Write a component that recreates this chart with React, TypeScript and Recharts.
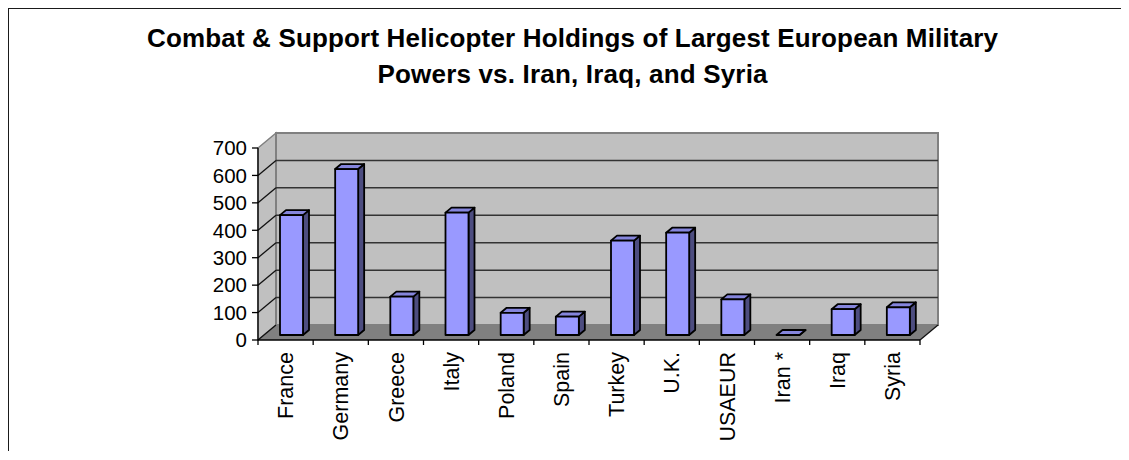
import { Bar, BarChart, ReferenceArea, XAxis, YAxis } from "recharts";

const countries = [
  "France",
  "Germany",
  "Greece",
  "Italy",
  "Poland",
  "Spain",
  "Turkey",
  "U.K.",
  "USAEUR",
  "Iran *",
  "Iraq",
  "Syria",
];
const helicopters = [437, 605, 140, 446, 81, 67, 344, 373, 130, 0, 94, 101];
const yTicks = [0, 100, 200, 300, 400, 500, 600, 700];
const titleLines = [
  "Combat & Support Helicopter Holdings of Largest European Military",
  "Powers vs. Iran, Iraq, and Syria",
];

const data = countries.map((name, i) => ({ name, value: helicopters[i] }));
const yMax = yTicks[yTicks.length - 1];

const font = "'Liberation Sans', Arial, sans-serif";
// 3d depth of the chart box (back wall offset from the front plane)
const DX = 18;
const DY = -15;

function Walls(props: any) {
  const { x, y, width, height } = props;
  const bottom = y + height;
  const right = x + width;
  const yOf = (v: number) => bottom - (v / yMax) * height;
  const n = countries.length;
  return (
    <g>
      <polygon
        points={`${x},${y} ${x + DX},${y + DY} ${x + DX},${bottom + DY} ${x},${bottom}`}
        fill="#c0c0c0"
        stroke="#808080"
        strokeWidth={1.5}
      />
      <rect x={x + DX} y={y + DY} width={width} height={height} fill="#c0c0c0" stroke="#808080" strokeWidth={2} />
      {yTicks.slice(1, -1).map((v) => (
        <g key={v}>
          <line x1={x + DX} x2={right + DX} y1={yOf(v) + DY} y2={yOf(v) + DY} stroke="#333" strokeWidth={1.5} />
          <line x1={x} x2={x + DX} y1={yOf(v)} y2={yOf(v) + DY} stroke="#111" strokeWidth={1.3} />
        </g>
      ))}
      <polygon
        points={`${x},${bottom} ${right},${bottom} ${right + DX},${bottom + DY} ${x + DX},${bottom + DY}`}
        fill="#808080"
      />
      <line x1={x} x2={x + DX} y1={bottom} y2={bottom + DY} stroke="#111" strokeWidth={1.3} />
      <line x1={right} x2={right + DX} y1={bottom} y2={bottom + DY} stroke="#111" strokeWidth={1.3} />
      {Array.from({ length: n + 1 }, (_, i) => (
        <line
          key={i}
          x1={x + (i * width) / n}
          x2={x + (i * width) / n}
          y1={bottom}
          y2={bottom + 5}
          stroke="#000"
          strokeWidth={1.3}
        />
      ))}
    </g>
  );
}

function Column3D(props: any) {
  const { x, y, width, height } = props;
  // column sits in the middle third of the box depth
  const fx = x + DX / 3;
  const fy = y + DY / 3;
  const dx = DX / 3;
  const dy = DY / 3;
  const h = Math.max(height || 0, 0);
  return (
    <g stroke="#000" strokeWidth={1.8} strokeLinejoin="round">
      <polygon
        fill="#4d4d80"
        points={`${fx + width},${fy} ${fx + width + dx},${fy + dy} ${fx + width + dx},${fy + h + dy} ${fx + width},${fy + h}`}
      />
      <polygon
        fill="#8585dc"
        points={`${fx},${fy} ${fx + dx},${fy + dy} ${fx + width + dx},${fy + dy} ${fx + width},${fy}`}
      />
      {h > 0 && <rect x={fx} y={fy} width={width} height={h} fill="#9999ff" />}
    </g>
  );
}

function CountryTick({ x, y, payload }: any) {
  return (
    <text
      x={x}
      y={y}
      dy="0.36em"
      transform={`rotate(-90, ${x}, ${y})`}
      textAnchor="end"
      fontSize={21.5}
      fontFamily={font}
      fill="#000"
    >
      {payload.value}
    </text>
  );
}

export default function App() {
  return (
    <div style={{ position: "relative", width: 1113, height: 444, borderTop: "2px solid #1a1a1a", marginTop: -1, boxSizing: "border-box" }}>
      <div style={{ position: "absolute", top: -2, left: -1, width: 2, height: 454, background: "#1a1a1a", zIndex: 2 }} />
      <svg style={{ position: "absolute", top: -1, left: 0 }} width={1113} height={100}>
        <text x={564.5} y={39.3} textAnchor="middle" fontSize={26} fontWeight="bold" fontFamily={font} textLength={851} lengthAdjust="spacing">
          {titleLines[0]}
        </text>
        <text x={564.5} y={75.3} textAnchor="middle" fontSize={26} fontWeight="bold" fontFamily={font} textLength={390} lengthAdjust="spacing">
          {titleLines[1]}
        </text>
      </svg>
      <div style={{ position: "absolute", top: -1, left: 0 }}>
        <BarChart width={1113} height={444} data={data} margin={{ top: 140, right: 201, left: 190, bottom: 0 }}>
          <ReferenceArea y1={0} y2={yMax} ifOverflow="visible" shape={<Walls />} />
          <Bar dataKey="value" barSize={23} shape={<Column3D />} isAnimationActive={false} />
          <XAxis
            dataKey="name"
            height={112}
            interval={0}
            tickLine={false}
            tickSize={12}
            tickMargin={0}
            axisLine={{ stroke: "#000", strokeWidth: 1.3 }}
            tick={<CountryTick />}
          />
          <YAxis
            width={60}
            domain={[0, yMax]}
            ticks={yTicks}
            interval={0}
            tickSize={6}
            tickMargin={5}
            axisLine={{ stroke: "#000", strokeWidth: 1.3 }}
            tickLine={{ stroke: "#000", strokeWidth: 1.3 }}
            tick={{ fontSize: 20.5, fill: "#000", fontFamily: font }}
          />
        </BarChart>
      </div>
    </div>
  );
}
